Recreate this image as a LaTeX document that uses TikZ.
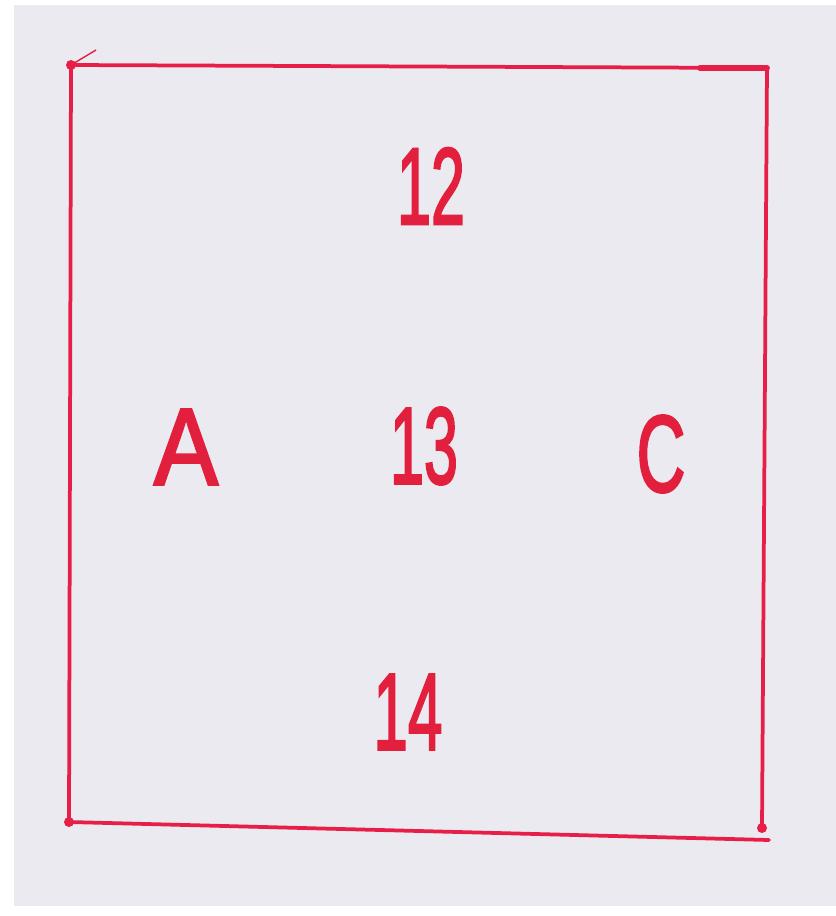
\documentclass[tikz,border=0pt]{standalone}
\usepackage{fontspec}
\setmainfont{Liberation Sans}
\newfontfamily\handfont[FakeBold=2.5]{Liberation Sans}
\usepackage{graphicx}
\definecolor{paper}{RGB}{235,234,240}
\definecolor{pen}{RGB}{230,30,72}
\definecolor{ink}{RGB}{226,32,62}
\tikzset{
  lbl/.style={text=ink, font=\handfont\fontsize{93}{93}\selectfont, inner sep=0pt, anchor=center},
  edge/.style={draw=pen, line width=3.2pt, line cap=round},
}
\begin{document}
\begin{tikzpicture}[x=0.03cm,y=-0.03cm]
\useasboundingbox (0,0) rectangle (836,916);
\fill[white] (0,0) rectangle (836,916);
\fill[paper] (14,5) rectangle (836,906);
% corners
\coordinate (tl) at (71,65);
\coordinate (tr) at (767,68);
\coordinate (br) at (762,828);
\coordinate (bl) at (69,822);
\coordinate (bre) at (769,840);
\coordinate (tick) at (96,50);
\coordinate (trs) at (700,68);
\draw[edge] (tl) -- (tr);
\draw[edge] (tr) -- (br);
\draw[edge] (tl) -- (bl);
\draw[edge] (bl) -- (bre);
\draw[draw=pen, line width=1.2pt] (tl) -- (tick);
\draw[draw=pen, line width=5pt, line cap=round] (trs) -- (tr);
\fill[pen] (bl) circle (5);
\fill[pen] (br) circle (5);
\fill[pen] (tl) circle (5);
% labels
\node[lbl] (n12) at (431,186) {\scalebox{0.56}[1]{12}};
\node[lbl] (nA) at (186,447) {\scalebox{0.88}[1]{A}};
\node[lbl] (n13) at (424,446) {\scalebox{0.56}[1]{13}};
\node[lbl] (nC) at (661,454) {\scalebox{0.62}[1]{C}};
\node[lbl] (n14) at (408,712) {\scalebox{0.57}[1]{14}};
\end{tikzpicture}
\end{document}
